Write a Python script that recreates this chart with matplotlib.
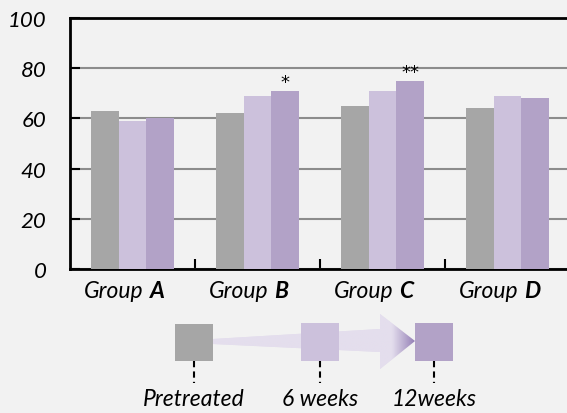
import numpy as np
import matplotlib
matplotlib.use("Agg")
import matplotlib.pyplot as plt
from matplotlib.patches import Polygon, Rectangle
from matplotlib.transforms import offset_copy
from matplotlib.colors import to_rgb

groups = ["A", "B", "C", "D"]
series = ["Pretreated", "6 weeks", "12weeks"]
pretreated = [63, 62, 65, 64]
weeks6 = [59, 69, 71, 69]
weeks12 = [60, 71, 75, 68]
signif = ["", "*", "**", ""]
yticks = [0, 20, 40, 60, 80, 100]

colors = ["#a6a6a6", "#ccc1dc", "#b2a2c7"]
bg = "#f2f2f2"
FONT = "Lato"
FS = 16.5

W, H = 567, 414
fig = plt.figure(figsize=(W / 100, H / 100), dpi=100, facecolor=bg)

ax = fig.add_axes([70 / W, (H - 270) / H, 500 / W, 251 / H])
ax.set_facecolor(bg)
x = np.arange(len(groups))
bw = 0.22
for i, (vals, c) in enumerate(zip([pretreated, weeks6, weeks12], colors)):
    ax.bar(x + (i - 1) * bw, vals, width=bw, color=c, zorder=3, linewidth=0)

for xi, v, s in zip(x, weeks12, signif):
    if s:
        ax.text(xi + bw, v + 3.6, s, ha="center", va="center", fontsize=13,
                family="DejaVu Sans", zorder=4)

ax.set_xlim(-0.5, len(groups) - 0.5)
ax.set_ylim(0, 100)
ax.yaxis.grid(True, color="#8c8c8c", linewidth=1.5, zorder=0)
ax.set_axisbelow(True)
ax.tick_params(axis="y", direction="in", length=7, width=1.5, pad=17)
ax.tick_params(axis="x", direction="in", length=7, width=1.5)
ax.set_xticks(x[:-1] + 0.5)
ax.set_xticklabels([])
ax.set_yticks(yticks)
ax.set_yticklabels([str(t) for t in yticks], fontfamily=FONT, fontstyle="italic", fontsize=16)
for sp in ["left", "bottom", "top"]:
    ax.spines[sp].set_linewidth(2)
    ax.spines[sp].set_color("black")
ax.spines["right"].set_visible(False)

for xi, g in zip(x, groups):
    t1 = offset_copy(ax.get_xaxis_transform(), fig=fig, x=11 * 72 / 100, y=0, units="points")
    t2 = offset_copy(ax.get_xaxis_transform(), fig=fig, x=17 * 72 / 100, y=0, units="points")
    ax.text(xi, -0.085, "Group", transform=t1, ha="right", va="center",
            family=FONT, style="italic", fontsize=FS)
    ax.text(xi, -0.085, g, transform=t2, ha="left", va="center",
            family=FONT, style="italic", weight="bold", fontsize=FS)

# timeline key drawn in pixel coordinates
lax = fig.add_axes([0, 0, 1, 1])
lax.set_xlim(0, W)
lax.set_ylim(H, 0)
lax.axis("off")

arrow_col = "#e4deed"
tip_col = "#9783b8"
pts = [(213, 340), (380, 330), (380, 315), (415, 342), (380, 370), (380, 353), (213, 345)]
poly = Polygon(pts, closed=True, facecolor=arrow_col, edgecolor="none", zorder=1)
lax.add_patch(poly)
grad_x = np.linspace(0, 1, 200)
a = np.clip((grad_x * 415 - 393) / (415 - 393), 0, 1)
c0, c1 = np.array(to_rgb(arrow_col)), np.array(to_rgb(tip_col))
img = (c0[None, :] * (1 - a[:, None]) + c1[None, :] * a[:, None])[None, :, :]
im = lax.imshow(img, extent=[0, 415, 371, 314], aspect="auto", zorder=2, interpolation="bilinear")
im.set_clip_path(poly)

sq = [(175, 213), (301, 339), (415, 453)]
sq_y = [(325, 362), (324, 362), (324, 362)]
centers = []
for (x0, x1), (y0, y1), c in zip(sq, sq_y, colors):
    lax.add_patch(Rectangle((x0, y0), x1 - x0, y1 - y0, facecolor=c, edgecolor="none", zorder=3))
    cx = (x0 + x1) / 2
    centers.append(cx)
    lax.plot([cx, cx], [y1, 384], color="black", linewidth=1.5, linestyle=(0, (3, 2)), zorder=3)

for cx, label in zip(centers, series):
    lax.text(cx, 400, label, ha="center", va="center", family=FONT, style="italic", fontsize=FS)

fig.savefig("out.png", dpi=100, facecolor=bg)
